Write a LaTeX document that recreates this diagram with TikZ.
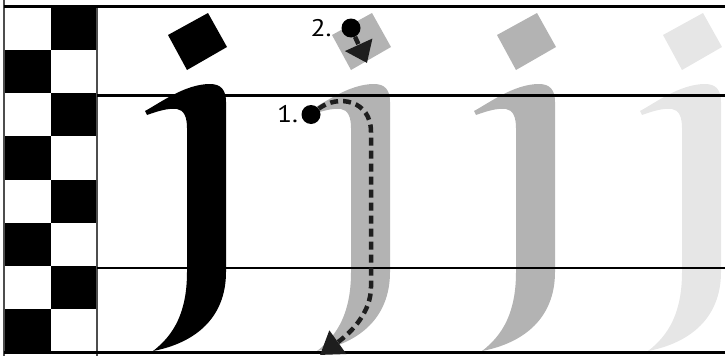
\documentclass[tikz,border=0pt]{standalone}
\usepackage{fontspec}
\setmainfont{PT Sans}
\newfontfamily\stepfont[FakeStretch=1.15]{PT Sans}
\usepackage{tikz}
\usetikzlibrary{arrows.meta,positioning}
\definecolor{jgray}{HTML}{B3B3B3}
\definecolor{jlight}{HTML}{E6E6E6}
\definecolor{rulegray}{HTML}{4D4D4D}
\definecolor{dashgray}{HTML}{1E1E1E}

\begin{document}
\begin{tikzpicture}[x=1pt, y=-1pt,
	guide/.style={line width=2.8pt},
	edge/.style={line width=2pt, draw=rulegray},
	dot/.style={circle, fill=black, inner sep=0pt, minimum size=19pt},
	num/.style={inner sep=0pt, font=\stepfont\fontsize{24}{24}\selectfont},
	stroke/.style={draw=dashgray, line width=4.5pt, dash pattern=on 8pt off 5pt}
]
	\useasboundingbox (0,0) rectangle (725,356);
	\foreach \i in {0,2,4,6}
		\fill (51,{7+43.125*\i}) rectangle (97,{7+43.125*(\i+1)});
	\foreach \i in {1,3,5,7}
		\fill (4,{7+43.125*\i}) rectangle (51,{7+43.125*(\i+1)});
	\foreach \dx/\col in {0/black, 164/jgray, 329/jgray, 495/jlight} {
		\begin{scope}[xshift=\dx pt]
			\fill[\col] (168,35) -- (208,13) -- (227,47) -- (187,70) -- cycle;
			\fill[\col] (145,111) .. controls (160,103) and (185,84) .. (210,84)
				.. controls (221,84) and (226,90) .. (226,102) -- (226,272)
				.. controls (226,318) and (195,343) .. (153,351)
				.. controls (174,335) and (187,312) .. (187,272) -- (187,128)
				.. controls (187,117) and (184,110) .. (177,109)
				.. controls (168,108) and (158,111) .. (147,115) -- cycle;
		\end{scope}
	}
	\draw[edge] (4,0) -- (4,356);
	\draw[edge] (97,5) -- (97,356);
	\draw[guide] (4,6.5) -- (725,6.5);
	\draw[guide] (97,95.3) -- (725,95.3);
	\draw[guide] (97,268) -- (725,268);
	\draw[guide] (4,352.5) -- (725,352.5);
	\node[dot] (d1) at (311,114.5) {};
	\node[dot] (d2) at (351,28) {};
	\node[num, left=3pt of d1] (n1) {1.};
	\node[num, left=9.5pt of d2] (n2) {2.};
	\coordinate (t1) at (320,355);
	\coordinate (t2) at (367,63);
	\draw[stroke, -{Triangle[width=29pt,length=20pt]}] (d2) -- (t2);
	\draw[stroke, -{Triangle[width=28pt,length=22pt]}] (d1)
		.. controls (338,94) and (371,100) .. (371,132) -- (371,287)
		.. controls (371,312) and (352,332) .. (t1);
\end{tikzpicture}
\end{document}
